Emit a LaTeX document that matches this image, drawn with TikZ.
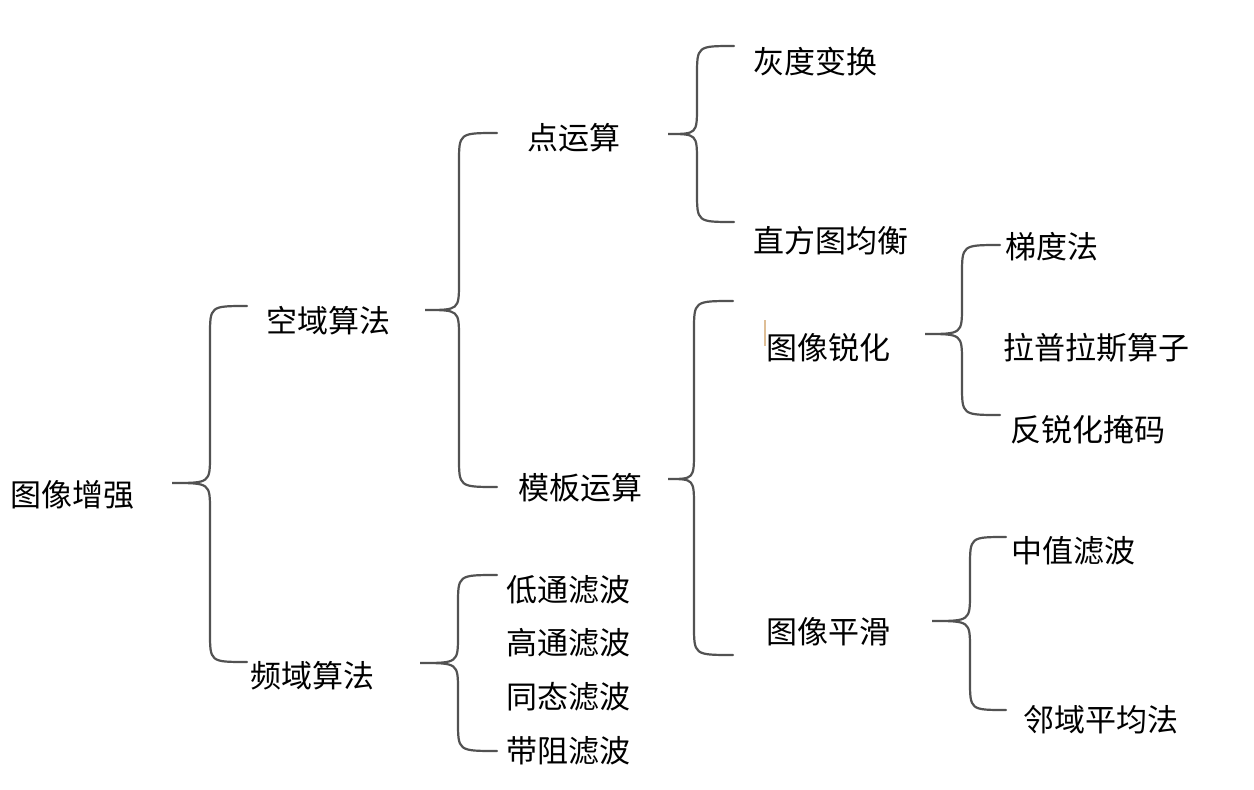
\documentclass[tikz,border=0pt]{standalone}
\usepackage{fontspec}
\newfontfamily\cjk{Noto Sans CJK SC}
\newcommand\cbrace[6]{% tipx, midy, vx, endx, topy, boty
  \draw[bracestyle] (#4,#5) .. controls (#3,#5) .. (#3,#5+30)
    -- (#3,#2-28) .. controls (#3,#2) .. (#1,#2)
    .. controls (#3,#2) .. (#3,#2+28)
    -- (#3,#6-30) .. controls (#3,#6) .. (#4,#6);}
\begin{document}
\begin{tikzpicture}[x=1pt,y=-1pt,
  lbl/.style={anchor=west,inner sep=0pt,font=\cjk\fontsize{31}{34}\selectfont},
  bracestyle/.style={draw=black!68,line width=2.2pt,line cap=round}]
\useasboundingbox (0,0) rectangle (1254,790);
\fill[white] (0,0) rectangle (1254,790);
% nodes
\node[lbl] (root) at (10,495) {图像增强};
\node[lbl] (kong) at (266,321) {空域算法};
\node[lbl] (pin) at (250,676) {频域算法};
\node[lbl] (dian) at (527,138) {点运算};
\node[lbl] (mob) at (518,488) {模板运算};
\node[lbl] (dt) at (506,590) {低通滤波};
\node[lbl] (gt) at (506,643) {高通滤波};
\node[lbl] (tt) at (506,697) {同态滤波};
\node[lbl] (dz) at (506,751) {带阻滤波};
\node[lbl] (hd) at (753,62) {灰度变换};
\node[lbl] (zf) at (753,241) {直方图均衡};
\node[lbl] (rh) at (766,348) {图像锐化};
\node[lbl] (ph) at (766,632) {图像平滑};
\node[lbl] (td) at (1005,247) {梯度法};
\node[lbl] (lp) at (1003,348) {拉普拉斯算子};
\node[lbl] (fr) at (1010,430) {反锐化掩码};
\node[lbl] (zz) at (1011,551) {中值滤波};
\node[lbl] (ly) at (1023,720) {邻域平均法};
% cursor mark
\draw[draw={rgb,255:red,222;green,190;blue,150},line width=1.2pt] (765,320) -- (765,346);
% braces
\cbrace{172}{483}{210}{247}{306}{662}
\cbrace{425}{310}{459}{497}{133}{487}
\cbrace{668}{134}{697}{734}{46}{222}
\cbrace{668}{479}{694}{733}{301}{655}
\cbrace{925}{334}{962}{1000}{245}{415}
\cbrace{932}{621}{970}{1006}{537}{710}
\cbrace{420}{663}{458}{497}{575}{751}
\end{tikzpicture}
\end{document}
